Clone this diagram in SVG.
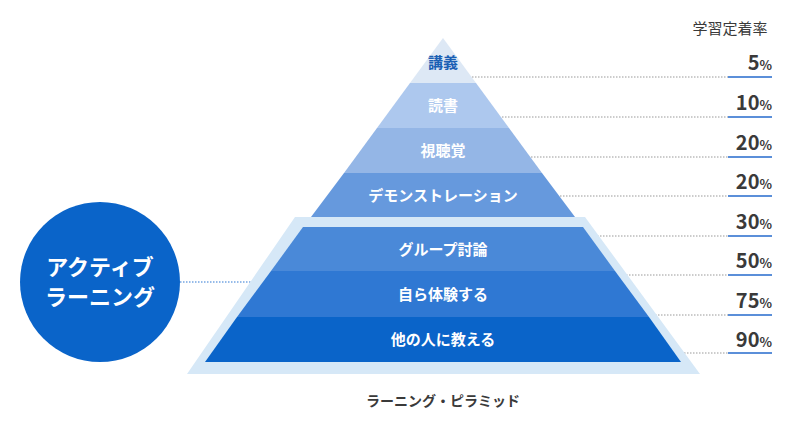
<svg xmlns="http://www.w3.org/2000/svg" width="790" height="424" viewBox="0 0 790 424">
<style>
text{font-family:"Noto Sans CJK JP","Noto Sans",sans-serif;font-weight:bold;text-anchor:middle}
.b{fill:#fff;font-size:15px}
.p{fill:#3a3a3a;font-size:20px;text-anchor:end}
.p tspan{font-size:13px}
.dot{stroke:#999;stroke-width:1;stroke-dasharray:1.5 1.5;fill:none}
.ul{stroke:#5b8fd9;stroke-width:2}
</style>
<rect width="790" height="424" fill="#fff"/>
<g id="connectors">
<path class="dot" d="M472 77H728M502 117H728M531 157H728M560 196H728M588 236H728M617 275H728M646 315H728M675 353H728"/>
<path d="M180 282H252" stroke="#2f78d3" stroke-width="1.2" stroke-dasharray="1.5 1.5"/>
</g>
<g id="frame"><polygon points="295,217 585,217 700,374 187,374" fill="#d6e8f7"/></g>
<g id="pyramid">
<polygon points="443,38 476,83 410,83" fill="#dde8f5"/>
<polygon points="410,83 476,83 509,128 377,128" fill="#adc8ee"/>
<polygon points="377,128 509,128 542,173 344,173" fill="#94b6e6"/>
<polygon points="344,173 542,173 575,217 311,217" fill="#6699dd"/>
<polygon points="303,227 583,227 615,271 271,271" fill="#4a89d8"/>
<polygon points="271,271 615,271 649,317 237,317" fill="#2f78d3"/>
<polygon points="237,317 649,317 681,362 205,362" fill="#0a64c9"/>
</g>
<g id="labels">
<text x="443" y="68" style="fill:#1a5fb4;font-size:15px">講義</text>
<text class="b" x="443" y="111">読書</text>
<text class="b" x="443" y="156">視聴覚</text>
<text class="b" x="443" y="201">デモンストレーション</text>
<text class="b" x="443" y="255">グループ討論</text>
<text class="b" x="443" y="300">自ら体験する</text>
<text class="b" x="443" y="345">他の人に教える</text>
</g>
<g id="rates">
<text x="730" y="34" style="fill:#3a3a3a;font-size:15px;font-weight:normal">学習定着率</text>
<text class="p" x="772" y="70">5<tspan>%</tspan></text>
<text class="p" x="772" y="110">10<tspan>%</tspan></text>
<text class="p" x="772" y="150">20<tspan>%</tspan></text>
<text class="p" x="772" y="189">20<tspan>%</tspan></text>
<text class="p" x="772" y="229">30<tspan>%</tspan></text>
<text class="p" x="772" y="268">50<tspan>%</tspan></text>
<text class="p" x="772" y="308">75<tspan>%</tspan></text>
<text class="p" x="772" y="347">90<tspan>%</tspan></text>
<path class="ul" d="M728 77H772M728 117H772M728 157H772M728 196H772M728 236H772M728 275H772M728 315H772M728 353H772"/>
</g>
<g id="active">
<circle cx="100" cy="282" r="80" fill="#0a64c9"/>
<text x="100" y="275" style="fill:#fff;font-size:22px">アクティブ</text>
<text x="100" y="305" style="fill:#fff;font-size:22px">ラーニング</text>
</g>
<text x="443" y="406" style="fill:#3a3a3a;font-size:14px">ラーニング・ピラミッド</text>
</svg>
